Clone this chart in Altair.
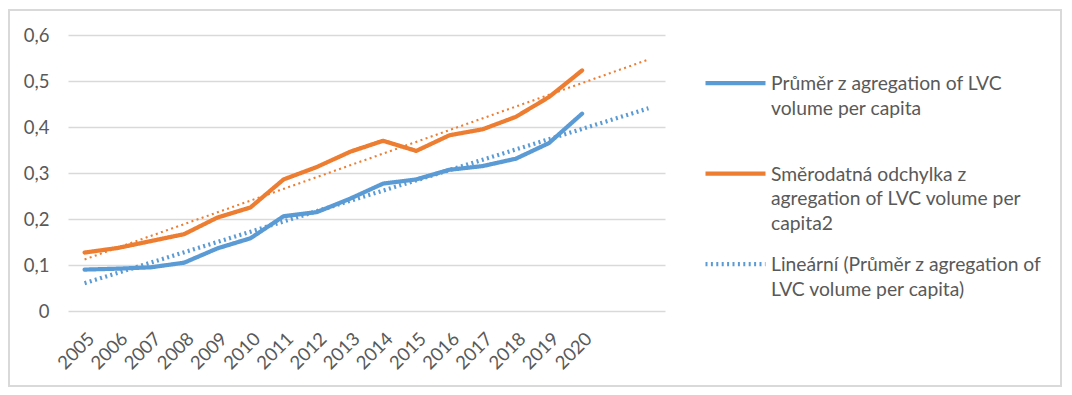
import altair as alt
import pandas as pd

YEARS = list(range(2005, 2021))
MEAN = [0.090, 0.092, 0.095, 0.105, 0.136, 0.158, 0.206, 0.215, 0.244, 0.277,
        0.286, 0.307, 0.315, 0.331, 0.365, 0.429]
STD = [0.127, 0.137, 0.152, 0.167, 0.203, 0.225, 0.286, 0.313, 0.346, 0.370,
       0.348, 0.382, 0.395, 0.422, 0.465, 0.523]

S_MEAN = "Průměr z agregation of LVC volume per capita"
S_STD = "Směrodatná odchylka z agregation of LVC volume per capita2"
S_TREND = "Lineární (Průměr z agregation of LVC volume per capita)"
SERIES = [S_MEAN, S_STD, S_TREND]
LEGEND_LINES = {
    S_MEAN: ["Průměr z agregation of LVC", "volume per capita"],
    S_STD: ["Směrodatná odchylka z", "agregation of LVC volume per", "capita2"],
    S_TREND: ["Lineární (Průměr z agregation of", "LVC volume per capita)"],
}
TREND_EXTENT = [2005, 2022]
Y_TICKS = [0, 0.1, 0.2, 0.3, 0.4, 0.5, 0.6]

BLUE = "#5B9BD5"
ORANGE = "#ED7D31"
TEXT = "#595959"
GRID = "#D9D9D9"
FONT = "Lato"
DOTS = [2, 3.4]

rows = [{"year": y, "value": v, "series": S_MEAN} for y, v in zip(YEARS, MEAN)]
rows += [{"year": y, "value": v, "series": S_STD} for y, v in zip(YEARS, STD)]
df = pd.DataFrame(rows)

W, H = 597, 276
PAD = {"left": 60, "top": 27, "right": 399, "bottom": 76}


def js_list(lines):
    return "[" + ",".join("'" + l + "'" for l in lines) + "]"


label_expr = ""
for s in SERIES:
    label_expr += f"datum.label == '{s}' ? {js_list(LEGEND_LINES[s])} : "
label_expr += "datum.label"

x_enc = alt.X(
    "year:Q",
    scale=alt.Scale(domain=[2004.5, 2022.5], nice=False, zero=False),
    axis=alt.Axis(
        values=YEARS, format="d", title=None, grid=False, domain=False,
        ticks=False, labelAngle=315, labelAlign="right", labelBaseline="top",
        labelPadding=18, labelFontSize=18.5, labelColor=TEXT, labelFont=FONT,
        labelOverlap=False,
    ),
)
y_enc = alt.Y(
    "value:Q",
    scale=alt.Scale(domain=[0, 0.6], nice=False),
    axis=alt.Axis(
        values=Y_TICKS, title=None, grid=True, gridColor=GRID, gridWidth=1.5,
        domain=False, ticks=False, labelPadding=19, labelFontSize=18.5,
        labelColor=TEXT, labelFont=FONT,
        labelExpr="datum.value == 0 ? '0' : replace(format(datum.value, '.1f'), '.', ',')",
    ),
)

legend = alt.Legend(
    title=None, orient="none", legendX=635, legendY=25,
    symbolType="M-1,0.27L1,0.27", clipHeight=30,
    symbolSize=3600, labelExpr=label_expr, labelFontSize=19.3, labelColor=TEXT,
    labelFont=FONT, labelBaseline="top", labelOffset=3, labelLimit=400,
    rowPadding=6.5, gridAlign="all", padding=0,
)

color_enc = alt.Color("series:N", scale=alt.Scale(domain=SERIES, range=[BLUE, ORANGE, BLUE]), legend=legend)
dash_enc = alt.StrokeDash("series:N", scale=alt.Scale(domain=SERIES, range=[[1, 0], [1, 0], DOTS]), legend=legend)
width_enc = alt.StrokeWidth("series:N", scale=alt.Scale(domain=SERIES, range=[4.2, 4.2, 2.1]), legend=legend)

base = alt.Chart(df)

lines = base.mark_line(strokeCap="round", strokeJoin="round").encode(
    x=x_enc, y=y_enc, color=color_enc, strokeDash=dash_enc, strokeWidth=width_enc
)

trend_blue = base.transform_filter(
    alt.datum.series == S_MEAN
).transform_regression(
    "year", "value", method="linear", extent=TREND_EXTENT
).transform_calculate(series=f"'{S_TREND}'").mark_line().encode(
    x=x_enc, y=y_enc, color=color_enc, strokeDash=dash_enc, strokeWidth=width_enc
)

trend_orange = base.transform_filter(
    alt.datum.series == S_STD
).transform_regression(
    "year", "value", method="linear", extent=TREND_EXTENT
).mark_line(color=ORANGE, strokeDash=DOTS, strokeWidth=2.1).encode(
    x=x_enc, y=y_enc
)

border = alt.Chart(alt.Data(values=[{}])).mark_rect(
    fill=None, stroke=GRID, strokeWidth=2
).encode(
    x=alt.value(-59), x2=alt.value(W + PAD["right"] - 3),
    y=alt.value(-25), y2=alt.value(H + PAD["bottom"] - 1),
)

chart = alt.layer(border, lines, trend_blue, trend_orange).properties(
    width=W, height=H, padding=PAD, autosize=alt.AutoSizeParams(type="none"),
).configure(
    font=FONT,
    view=alt.ViewConfig(stroke=None),
    style={"guide-label": {"lineHeight": 24.5}},
)

chart.save("out.html", embed_options={"renderer": "svg", "actions": False})
